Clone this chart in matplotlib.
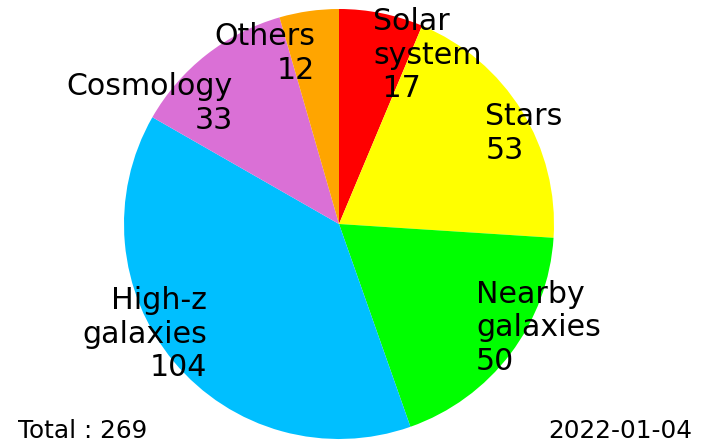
import matplotlib
matplotlib.use("Agg")
import matplotlib.pyplot as plt

categories = ["Solar\nsystem\n 17", "Stars\n53", "Nearby\ngalaxies\n50",
              "High-z\ngalaxies\n104", "Cosmology\n33", "Others\n12"]
values = [17, 53, 50, 104, 33, 12]
colors = ["red", "yellow", "lime", "deepskyblue", "orchid", "orange"]
total_text = "Total : 269"
date_text = "2022-01-04"

W, H = 705, 443
fig = plt.figure(figsize=(W / 100, H / 100), dpi=100)
cx, cy, r = 339, 443 - 224, 215
ax = fig.add_axes([(cx - r) / W, (cy - r) / H, 2 * r / W, 2 * r / H])
wedges, texts = ax.pie(values, labels=categories, colors=colors, startangle=90,
                       counterclock=False, labeldistance=0.8,
                       textprops=dict(fontsize=21.6), frame=True)
ax.set_xlim(-1, 1)
ax.set_ylim(-1, 1)
ax.set_aspect("equal")
ax.axis("off")
# slight nudge of the Cosmology label as in the reference
x, y = texts[4].get_position()
texts[4].set_position((x, y - 0.07))

fig.text(18 / W, 5 / H, total_text, fontsize=17.8, ha="left", va="baseline")
fig.text(692 / W, 5 / H, date_text, fontsize=17.8, ha="right", va="baseline")
fig.savefig("out.png", dpi=100)
